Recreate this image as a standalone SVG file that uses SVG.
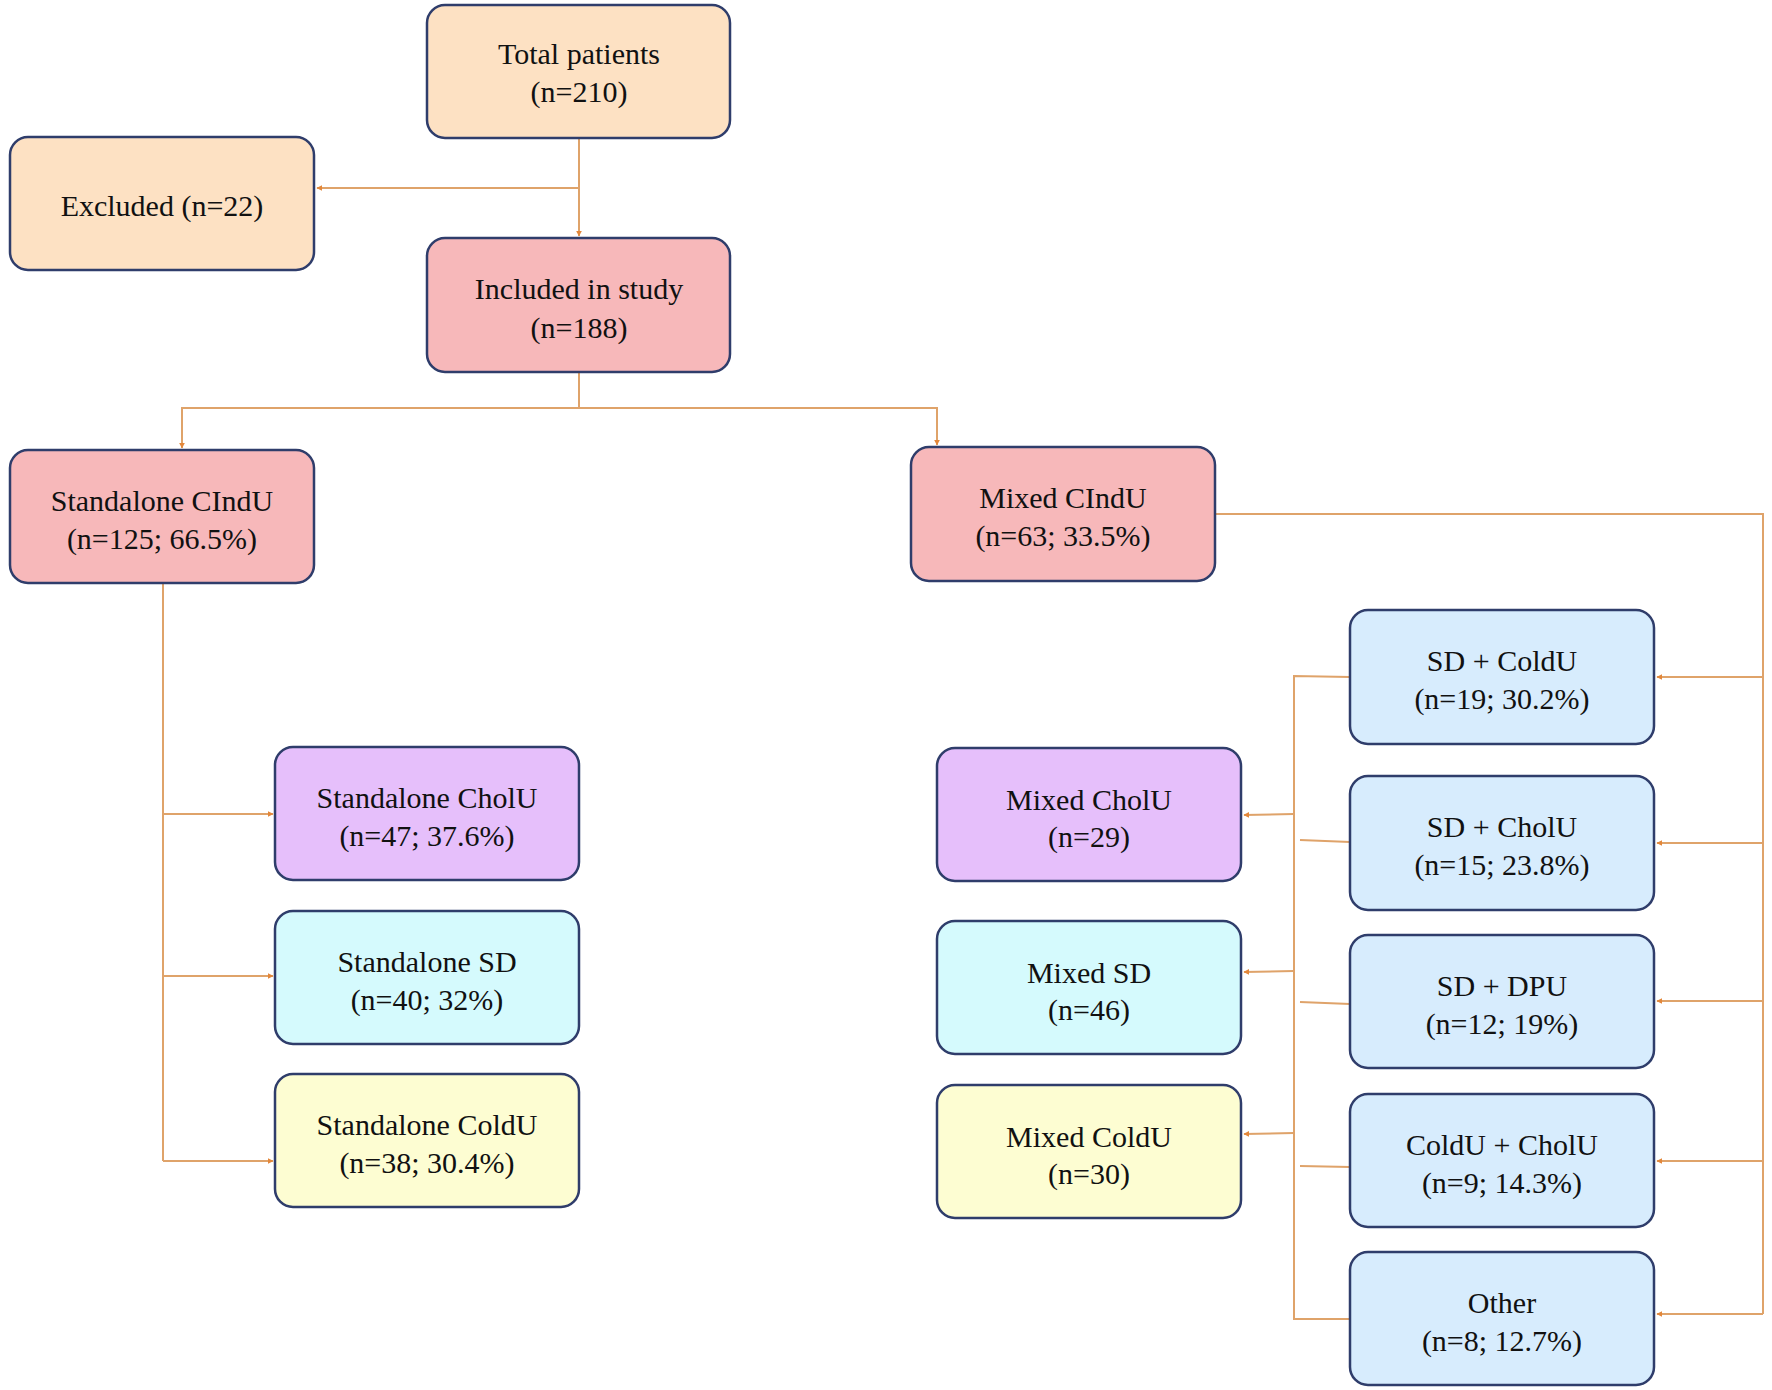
<svg xmlns="http://www.w3.org/2000/svg" width="1772" height="1390" viewBox="0 0 1772 1390">
<style>
.b rect{stroke:#2f3d6b;stroke-width:2.5}
text{font-family:"Liberation Serif",serif;font-size:30px;fill:#111;text-anchor:middle}
.c path{fill:none;stroke:#dfa36a;stroke-width:2}
.peach{fill:#fde1c3}.pink{fill:#f7b8ba}.purple{fill:#e6bffb}.cyan{fill:#d5fafd}.yellow{fill:#fdfdd2}.blue{fill:#d7ecfd}
</style>
<defs><marker id="a" viewBox="0 0 10 10" refX="9" refY="5" markerWidth="6" markerHeight="6" orient="auto" markerUnits="userSpaceOnUse"><path d="M0,0L10,5L0,10z" fill="#e3873a"/></marker></defs>
<rect width="1772" height="1390" fill="#fff"/>
<g class="c">
<path d="M579,138V236" marker-end="url(#a)"/>
<path d="M579,188H317" marker-end="url(#a)"/>
<path d="M579,372V408H182V448" marker-end="url(#a)"/>
<path d="M579,408H937V445" marker-end="url(#a)"/>
<path d="M163,583V1161"/>
<path d="M163,814H273" marker-end="url(#a)"/>
<path d="M163,976H273" marker-end="url(#a)"/>
<path d="M163,1161H273" marker-end="url(#a)"/>
<path d="M1215,514H1763V1314"/>
<path d="M1763,677H1657" marker-end="url(#a)"/>
<path d="M1763,843H1657" marker-end="url(#a)"/>
<path d="M1763,1001H1657" marker-end="url(#a)"/>
<path d="M1763,1161H1657" marker-end="url(#a)"/>
<path d="M1763,1314H1657" marker-end="url(#a)"/>
<path d="M1350,677L1294,676V1319H1350"/>
<path d="M1350,842L1300,840"/>
<path d="M1350,1004L1300,1002"/>
<path d="M1350,1167L1300,1166"/>
<path d="M1294,814L1244,815" marker-end="url(#a)"/>
<path d="M1294,971L1244,972" marker-end="url(#a)"/>
<path d="M1294,1133L1244,1134" marker-end="url(#a)"/>
</g>
<g class="b">
<g id="total"><rect x="427" y="5" width="303" height="133" rx="18" class="peach"/><text x="579" y="64">Total patients</text><text x="579" y="102">(n=210)</text></g>
<g id="excluded"><rect x="10" y="137" width="304" height="133" rx="18" class="peach"/><text x="162" y="216">Excluded (n=22)</text></g>
<g id="included"><rect x="427" y="238" width="303" height="134" rx="18" class="pink"/><text x="579" y="299">Included in study</text><text x="579" y="338">(n=188)</text></g>
<g id="standalone"><rect x="10" y="450" width="304" height="133" rx="18" class="pink"/><text x="162" y="511">Standalone CIndU</text><text x="162" y="549">(n=125; 66.5%)</text></g>
<g id="mixed"><rect x="911" y="447" width="304" height="134" rx="18" class="pink"/><text x="1063" y="508">Mixed CIndU</text><text x="1063" y="546">(n=63; 33.5%)</text></g>
<g id="s-cholu"><rect x="275" y="747" width="304" height="133" rx="18" class="purple"/><text x="427" y="808">Standalone CholU</text><text x="427" y="846">(n=47; 37.6%)</text></g>
<g id="s-sd"><rect x="275" y="911" width="304" height="133" rx="18" class="cyan"/><text x="427" y="972">Standalone SD</text><text x="427" y="1010">(n=40; 32%)</text></g>
<g id="s-coldu"><rect x="275" y="1074" width="304" height="133" rx="18" class="yellow"/><text x="427" y="1135">Standalone ColdU</text><text x="427" y="1173">(n=38; 30.4%)</text></g>
<g id="m-cholu"><rect x="937" y="748" width="304" height="133" rx="18" class="purple"/><text x="1089" y="810">Mixed CholU</text><text x="1089" y="847">(n=29)</text></g>
<g id="m-sd"><rect x="937" y="921" width="304" height="133" rx="18" class="cyan"/><text x="1089" y="983">Mixed SD</text><text x="1089" y="1020">(n=46)</text></g>
<g id="m-coldu"><rect x="937" y="1085" width="304" height="133" rx="18" class="yellow"/><text x="1089" y="1147">Mixed ColdU</text><text x="1089" y="1184">(n=30)</text></g>
<g id="sd-coldu"><rect x="1350" y="610" width="304" height="134" rx="18" class="blue"/><text x="1502" y="671">SD + ColdU</text><text x="1502" y="709">(n=19; 30.2%)</text></g>
<g id="sd-cholu"><rect x="1350" y="776" width="304" height="134" rx="18" class="blue"/><text x="1502" y="837">SD + CholU</text><text x="1502" y="875">(n=15; 23.8%)</text></g>
<g id="sd-dpu"><rect x="1350" y="935" width="304" height="133" rx="18" class="blue"/><text x="1502" y="996">SD + DPU</text><text x="1502" y="1034">(n=12; 19%)</text></g>
<g id="coldu-cholu"><rect x="1350" y="1094" width="304" height="133" rx="18" class="blue"/><text x="1502" y="1155">ColdU + CholU</text><text x="1502" y="1193">(n=9; 14.3%)</text></g>
<g id="other"><rect x="1350" y="1252" width="304" height="133" rx="18" class="blue"/><text x="1502" y="1313">Other</text><text x="1502" y="1351">(n=8; 12.7%)</text></g>
</g>
</svg>
